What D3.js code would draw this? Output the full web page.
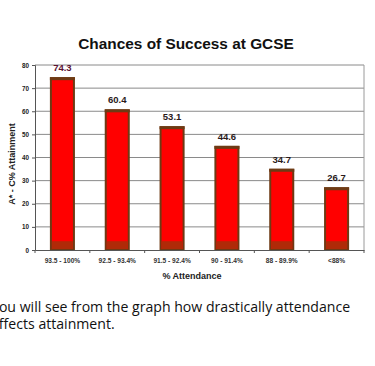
<!DOCTYPE html>
<html>
<head>
<meta charset="utf-8">
<script src="https://cdn.jsdelivr.net/npm/d3@7"></script>
<style>
  body { margin: 0; background: #fff; overflow: hidden; }
  svg { display: block; }
</style>
</head>
<body>
<script>
// chart data
var categories = ["93.5 - 100%", "92.5 - 93.4%", "91.5 - 92.4%", "90 - 91.4%", "88 - 89.9%", "<88%"];
var values = [74.3, 60.4, 53.1, 44.6, 34.7, 26.7];
var yTicks = [0, 10, 20, 30, 40, 50, 60, 70, 80];
var noteLines = ["You will see from the graph how drastically attendance", "affects attainment."];

var w = 375, h = 366;
// plot area (note: "top" is reserved on window, so use prefixed names)
var pLeft = 35, pRight = 364, pTop = 65, pBottom = 250;

var svg = d3.select("body").append("svg")
  .attr("width", w)
  .attr("height", h);

var x = d3.scaleBand()
  .domain(categories)
  .range([pLeft, pRight])
  .paddingInner(0.58)
  .paddingOuter(0.29);

var y = d3.scaleLinear()
  .domain([0, 80])
  .range([pBottom, pTop]);

// gridlines
svg.append("g").selectAll("line")
  .data(yTicks.filter(function(d) { return d > 0; }))
  .enter().append("line")
  .attr("x1", pLeft).attr("x2", pRight)
  .attr("y1", function(d) { return y(d); })
  .attr("y2", function(d) { return y(d); })
  .attr("stroke", "#8a8a8a")
  .attr("stroke-width", 1);

// right border
svg.append("line")
  .attr("x1", pRight).attr("x2", pRight)
  .attr("y1", pTop).attr("y2", pBottom)
  .attr("stroke", "#9a9a9a");

// bars
var bars = svg.append("g").selectAll("g")
  .data(values)
  .enter().append("g");

bars.append("rect")
  .attr("x", function(d, i) { return x(categories[i]); })
  .attr("y", function(d) { return y(d); })
  .attr("width", x.bandwidth())
  .attr("height", function(d) { return y(0) - y(d); })
  .attr("fill", "#ff0000")
  .attr("stroke", "#6e3a14")
  .attr("stroke-width", 2);

// darker base band
bars.append("rect")
  .attr("x", function(d, i) { return x(categories[i]) + 1; })
  .attr("y", y(3.8))
  .attr("width", x.bandwidth() - 2)
  .attr("height", y(0) - y(3.8) - 1)
  .attr("fill", "#b02a08");

// top cap
bars.append("rect")
  .attr("x", function(d, i) { return x(categories[i]) - 1; })
  .attr("y", function(d) { return y(d) - 1; })
  .attr("width", x.bandwidth() + 2)
  .attr("height", 3)
  .attr("fill", "#6e3a14");

// value labels
bars.append("text")
  .attr("x", function(d, i) { return x(categories[i]) + x.bandwidth() / 2; })
  .attr("y", function(d) { return y(d) - 7; })
  .attr("text-anchor", "middle")
  .attr("font-family", "Liberation Sans, Arial, sans-serif")
  .attr("font-size", 9.5)
  .attr("font-weight", "bold")
  .attr("fill", function(d, i) { return i === 0 ? "#5a1030" : "#2a1a1a"; })
  .text(function(d) { return d.toFixed(1); });

// y axis
var yAxis = svg.append("g")
  .attr("transform", "translate(" + pLeft + ",0)")
  .call(d3.axisLeft(y).tickValues(yTicks).tickSize(3).tickPadding(3));
yAxis.select(".domain").attr("stroke", "#555");
yAxis.selectAll(".tick line").attr("stroke", "#555");
yAxis.selectAll("text")
  .attr("font-family", "Liberation Sans, Arial, sans-serif")
  .attr("font-size", 6.3)
  .attr("font-weight", "bold")
  .attr("fill", "#222");

// x axis
var xAxis = svg.append("g")
  .attr("transform", "translate(0," + pBottom + ")")
  .call(d3.axisBottom(x).tickSize(0).tickPadding(8));
xAxis.select(".domain").attr("stroke", "#555");
xAxis.selectAll("text")
  .attr("font-family", "Liberation Sans, Arial, sans-serif")
  .attr("font-size", 6.6)
  .attr("font-weight", "bold")
  .attr("fill", "#333");

// ticks between categories
svg.append("g").selectAll("line")
  .data(d3.range(categories.length + 1))
  .enter().append("line")
  .attr("x1", function(i) { return pLeft + i * (pRight - pLeft) / categories.length; })
  .attr("x2", function(i) { return pLeft + i * (pRight - pLeft) / categories.length; })
  .attr("y1", pBottom).attr("y2", pBottom + 3)
  .attr("stroke", "#555");

// title
svg.append("text")
  .attr("x", 186).attr("y", 49)
  .attr("text-anchor", "middle")
  .attr("font-family", "Liberation Sans, Arial, sans-serif")
  .attr("font-size", 15.4)
  .attr("font-weight", "bold")
  .attr("fill", "#111")
  .text("Chances of Success at GCSE");

// axis titles
svg.append("text")
  .attr("transform", "translate(15,164) rotate(-90)")
  .attr("text-anchor", "middle")
  .attr("font-family", "Liberation Sans, Arial, sans-serif")
  .attr("font-size", 9)
  .attr("font-weight", "bold")
  .attr("fill", "#222")
  .text("A* - C% Attainment");

svg.append("text")
  .attr("x", 192).attr("y", 279)
  .attr("text-anchor", "middle")
  .attr("font-family", "Liberation Sans, Arial, sans-serif")
  .attr("font-size", 9)
  .attr("font-weight", "bold")
  .attr("fill", "#222")
  .text("% Attendance");

// note text below chart
svg.append("g").selectAll("text")
  .data(noteLines)
  .enter().append("text")
  .attr("x", -9)
  .attr("y", function(d, i) { return 312 + i * 17; })
  .attr("font-family", "Open Sans, sans-serif")
  .attr("font-size", 14.1)
  .attr("fill", "#111")
  .text(function(d) { return d; });
</script>
</body>
</html>
